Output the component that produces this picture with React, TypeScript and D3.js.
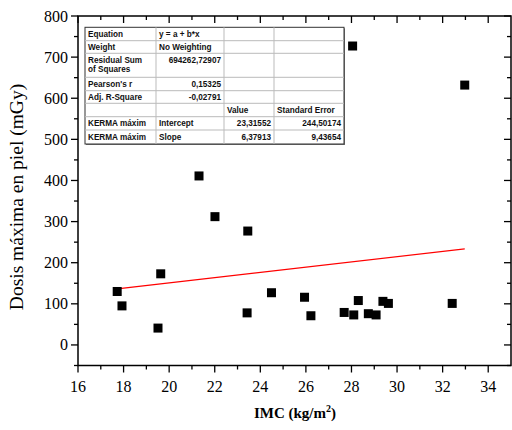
import React from "react";
import * as d3 from "d3";

const imc = [17.72, 17.93, 19.51, 19.63, 21.31, 22.01, 23.42, 23.45, 24.49, 25.94, 26.22, 27.68, 28.05, 28.1, 28.3, 28.74, 29.08, 29.38, 29.62, 32.42, 32.97];
const dosis = [130, 95, 41, 173, 411, 312, 78, 277, 127, 116, 71, 79, 727, 73, 108, 76, 73, 106, 101, 101, 632];
const intercept = 23.31552;
const slope = 6.37913;
const xTicks = [16, 18, 20, 22, 24, 26, 28, 30, 32, 34];
const yTicks = [0, 100, 200, 300, 400, 500, 600, 700, 800];

const tableRows: string[][] = [
  ["Equation", "y = a + b*x", "", ""],
  ["Weight", "No Weighting", "", ""],
  ["Residual Sum\nof Squares", "694262,72907", "", ""],
  ["Pearson's r", "0,15325", "", ""],
  ["Adj. R-Square", "-0,02791", "", ""],
  ["", "", "Value", "Standard Error"],
  ["KERMA máxim", "Intercept", "23,31552", "244,50174"],
  ["KERMA máxim", "Slope", "6,37913", "9,43654"],
];
const rightAligned = new Set(["694262,72907", "0,15325", "-0,02791", "23,31552", "244,50174", "6,37913", "9,43654"]);

const serif = { fontFamily: "'Liberation Serif', 'Times New Roman', Times, serif" };

export default function App() {
  const W = 512, H = 430;
  const x = d3.scaleLinear().domain([16, 35]).range([78, 511]);
  const y = d3.scaleLinear().domain([-50, 800]).range([365.5, 16]);
  const xMinor = d3.range(17, 35, 2);
  const yMinor = d3.range(-50, 800, 100);
  const xs = d3.extent(imc) as [number, number];
  const line = d3.line<number>().x((v) => x(v)).y((v) => y(intercept + slope * v));

  const colX = [85, 156, 224, 274, 344];
  const rowY = [27.3, 40.7, 53.3, 77.3, 90.7, 103.3, 116.7, 130, 144];
  const tf = { fontFamily: "'Liberation Sans', Arial, sans-serif" };

  return (
    <svg width={W} height={H} style={{ position: "absolute", left: 0, top: 0, background: "#fff" }}>
      <rect width={W} height={H} fill="#fff" />
      <rect x={x(16)} y={y(800)} width={x(35) - x(16)} height={y(-50) - y(800)} fill="none" stroke="#000" strokeWidth={1.5} />
      {xTicks.map((t) => (
        <g key={"xb" + t}>
          <line x1={x(t)} x2={x(t)} y1={y(-50)} y2={y(-50) + 7} stroke="#000" strokeWidth={1.3} />
          <line x1={x(t)} x2={x(t)} y1={y(800)} y2={y(800) + 7} stroke="#000" strokeWidth={1.3} />
          <text x={x(t)} y={392} textAnchor="middle" style={serif} fontSize={16}>{t}</text>
        </g>
      ))}
      {xMinor.map((t) => (
        <g key={"xm" + t}>
          <line x1={x(t)} x2={x(t)} y1={y(-50)} y2={y(-50) + 4} stroke="#000" strokeWidth={1.3} />
          <line x1={x(t)} x2={x(t)} y1={y(800)} y2={y(800) + 4} stroke="#000" strokeWidth={1.3} />
        </g>
      ))}
      {yTicks.map((t) => (
        <g key={"yt" + t}>
          <line x1={x(16) - 7} x2={x(16)} y1={y(t)} y2={y(t)} stroke="#000" strokeWidth={1.3} />
          <line x1={x(35) - 7} x2={x(35)} y1={y(t)} y2={y(t)} stroke="#000" strokeWidth={1.3} />
          <text x={68} y={y(t) + 5.5} textAnchor="end" style={serif} fontSize={16}>{t}</text>
        </g>
      ))}
      {yMinor.map((t) => (
        <g key={"ym" + t}>
          <line x1={x(16) - 4} x2={x(16)} y1={y(t)} y2={y(t)} stroke="#000" strokeWidth={1.3} />
          <line x1={x(35) - 4} x2={x(35)} y1={y(t)} y2={y(t)} stroke="#000" strokeWidth={1.3} />
        </g>
      ))}
      <text x={295} y={418} textAnchor="middle" style={serif} fontSize={15} fontWeight="bold">
        IMC (kg/m<tspan dy={-6} fontSize={10}>2</tspan><tspan dy={6}>)</tspan>
      </text>
      <text transform={`translate(23,197) rotate(-90)`} textAnchor="middle" style={serif} fontSize={19.5}>
        Dosis máxima en piel (mGy)
      </text>
      <path d={line(xs) || ""} stroke="#ff0000" strokeWidth={1.2} fill="none" />
      {imc.map((v, i) => (
        <rect key={"p" + i} x={x(v) - 4.5} y={y(dosis[i]) - 4.5} width={9} height={9} fill="#000" />
      ))}
      <g>
        <rect x={colX[0] + 1} y={rowY[0] + 1} width={colX[4] - colX[0]} height={rowY[8] - rowY[0]} fill="#777" />
        <rect x={colX[0]} y={rowY[0]} width={colX[4] - colX[0]} height={rowY[8] - rowY[0]} fill="#fff" stroke="#333" strokeWidth={1} />
        {rowY.slice(1, -1).map((ry, i) => (
          <line key={"r" + i} x1={colX[0]} x2={colX[4]} y1={ry} y2={ry} stroke="#bbb" strokeWidth={1} />
        ))}
        {colX.slice(1, -1).map((cx, i) => (
          <line key={"c" + i} x1={cx} x2={cx} y1={rowY[0]} y2={rowY[8]} stroke="#bbb" strokeWidth={1} />
        ))}
        {tableRows.map((row, ri) =>
          row.map((cell, ci) => {
            if (!cell) return null;
            const lines = cell.split("\n");
            const right = rightAligned.has(cell);
            const tx = right ? colX[ci + 1] - 3 : colX[ci] + 3;
            const top = rowY[ri];
            return (
              <text key={ri + "-" + ci} x={tx} y={top + 9.6} textAnchor={right ? "end" : "start"} style={tf} fontSize={8.2} fontWeight="bold" fill="#111">
                {lines.map((l, li) => (
                  <tspan key={li} x={tx} dy={li === 0 ? 0 : 9}>{l}</tspan>
                ))}
              </text>
            );
          })
        )}
      </g>
    </svg>
  );
}
